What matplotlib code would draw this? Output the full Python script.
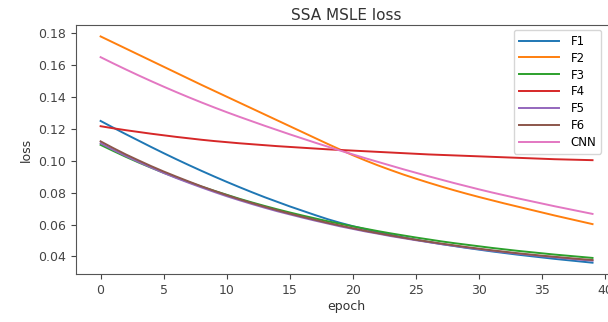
import matplotlib
matplotlib.use('Agg')
import matplotlib.pyplot as plt
import numpy as np

epochs = list(range(40))

f1 = [0.1250, 0.1208, 0.1167, 0.1127, 0.1087, 0.1048, 0.1010, 0.0973, 0.0937, 0.0902,
      0.0868, 0.0835, 0.0803, 0.0772, 0.0743, 0.0714, 0.0687, 0.0660, 0.0634, 0.0611,
      0.0590, 0.0571, 0.0553, 0.0536, 0.0520, 0.0505, 0.0491, 0.0478, 0.0466, 0.0454,
      0.0443, 0.0432, 0.0422, 0.0412, 0.0403, 0.0394, 0.0385, 0.0377, 0.0369, 0.0361]
f2 = [0.1780, 0.1742, 0.1704, 0.1666, 0.1628, 0.1590, 0.1552, 0.1514, 0.1476, 0.1439,
      0.1402, 0.1365, 0.1328, 0.1291, 0.1254, 0.1217, 0.1180, 0.1143, 0.1106, 0.1070,
      0.1035, 0.1002, 0.0971, 0.0942, 0.0914, 0.0888, 0.0863, 0.0839, 0.0816, 0.0794,
      0.0773, 0.0753, 0.0733, 0.0714, 0.0695, 0.0676, 0.0657, 0.0639, 0.0621, 0.0603]
f3 = [0.1100, 0.1062, 0.1025, 0.0990, 0.0957, 0.0925, 0.0895, 0.0866, 0.0838, 0.0812,
      0.0787, 0.0762, 0.0739, 0.0717, 0.0696, 0.0676, 0.0657, 0.0639, 0.0621, 0.0605,
      0.0589, 0.0574, 0.0559, 0.0545, 0.0532, 0.0519, 0.0507, 0.0495, 0.0484, 0.0474,
      0.0464, 0.0454, 0.0445, 0.0436, 0.0428, 0.0420, 0.0412, 0.0405, 0.0398, 0.0391]
f4 = [0.1217, 0.1204, 0.1192, 0.1181, 0.1170, 0.1160, 0.1150, 0.1141, 0.1132, 0.1124,
      0.1117, 0.1110, 0.1104, 0.1098, 0.1092, 0.1087, 0.1082, 0.1077, 0.1072, 0.1068,
      0.1064, 0.1060, 0.1056, 0.1052, 0.1048, 0.1044, 0.1040, 0.1037, 0.1034, 0.1031,
      0.1028, 0.1025, 0.1022, 0.1019, 0.1016, 0.1013, 0.1010, 0.1008, 0.1006, 0.1004]
f5 = [0.1110, 0.1069, 0.1030, 0.0993, 0.0958, 0.0924, 0.0892, 0.0862, 0.0833, 0.0805,
      0.0778, 0.0753, 0.0729, 0.0706, 0.0684, 0.0664, 0.0644, 0.0625, 0.0607, 0.0589,
      0.0573, 0.0557, 0.0543, 0.0528, 0.0515, 0.0502, 0.0490, 0.0478, 0.0467, 0.0456,
      0.0446, 0.0436, 0.0427, 0.0418, 0.0410, 0.0402, 0.0395, 0.0387, 0.0380, 0.0374]
f6 = [0.1122, 0.1080, 0.1040, 0.1003, 0.0967, 0.0933, 0.0901, 0.0870, 0.0840, 0.0812,
      0.0785, 0.0759, 0.0735, 0.0712, 0.0690, 0.0669, 0.0649, 0.0630, 0.0611, 0.0594,
      0.0577, 0.0561, 0.0546, 0.0532, 0.0518, 0.0505, 0.0493, 0.0481, 0.0470, 0.0459,
      0.0449, 0.0439, 0.0430, 0.0421, 0.0413, 0.0405, 0.0398, 0.0391, 0.0384, 0.0378]
cnn = [0.1650, 0.1611, 0.1573, 0.1536, 0.1500, 0.1465, 0.1431, 0.1398, 0.1366, 0.1335,
       0.1305, 0.1276, 0.1248, 0.1220, 0.1193, 0.1166, 0.1140, 0.1114, 0.1089, 0.1064,
       0.1040, 0.1016, 0.0993, 0.0970, 0.0947, 0.0925, 0.0903, 0.0882, 0.0861, 0.0841,
       0.0821, 0.0802, 0.0784, 0.0766, 0.0749, 0.0732, 0.0715, 0.0699, 0.0683, 0.0667]

series = [('F1', f1), ('F2', f2), ('F3', f3), ('F4', f4), ('F5', f5), ('F6', f6), ('CNN', cnn)]

fig = plt.figure(figsize=(6.08, 3.22), dpi=100)
# axes run a little past the right edge of the canvas
ax = fig.add_axes([0.125, 0.149, 0.89, 0.773])

for name, vals in series:
    ax.plot(epochs, vals, label=name, linewidth=1.4)

ax.set_title('SSA MSLE loss', fontsize=11, color='#333333', pad=4)
ax.set_xlabel('epoch', fontsize=9, color='#333333', labelpad=2)
ax.set_ylabel('loss', fontsize=9, color='#333333', labelpad=4)
ax.set_xticks(range(0, 41, 5))
ax.set_yticks(np.arange(0.04, 0.181, 0.02))
ax.yaxis.set_major_formatter(matplotlib.ticker.FormatStrFormatter('%.2f'))
ax.tick_params(labelsize=9, colors='#444444')
for s in ax.spines.values():
    s.set_color('#555555')

ax.legend(loc='upper right', bbox_to_anchor=(601 / 608, 1 - 30 / 322),
          bbox_transform=fig.transFigure, borderaxespad=0, fontsize=8.5,
          labelspacing=0.33, handlelength=3.4, handletextpad=1.0)

fig.savefig('out.png', dpi=100)
